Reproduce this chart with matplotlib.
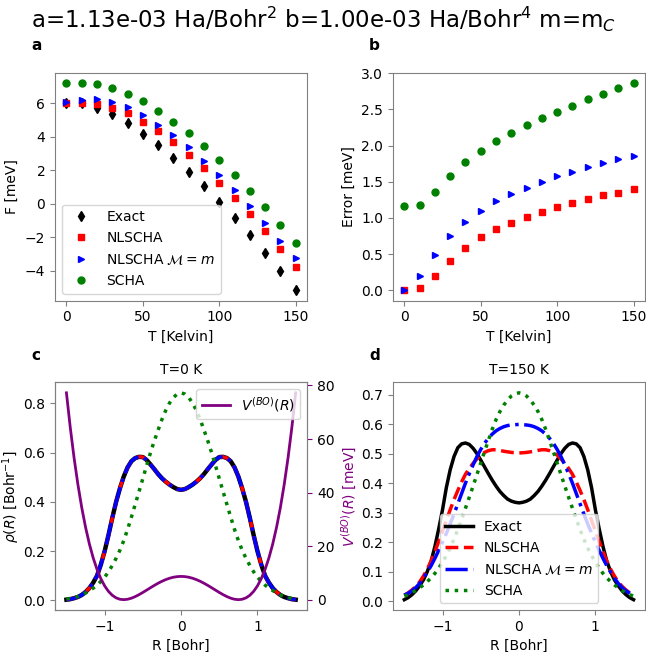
import numpy as np
import matplotlib
matplotlib.use("Agg")
import matplotlib.pyplot as plt

# ---------------- data ----------------
T = [0, 10, 20, 30, 40, 50, 60, 70, 80, 90, 100, 110, 120, 130, 140, 150]

F_exact = [6.0, 6.0, 5.74, 5.33, 4.8, 4.18, 3.48, 2.73, 1.92, 1.04, 0.1, -0.84, -1.88, -2.94, -4.03, -5.17]
F_nlscha = [6.04, 6.04, 5.94, 5.74, 5.39, 4.91, 4.32, 3.66, 2.93, 2.12, 1.25, 0.36, -0.62, -1.63, -2.68, -3.77]
F_nlscha_m = [6.06, 6.18, 6.24, 6.08, 5.76, 5.31, 4.73, 4.08, 3.37, 2.57, 1.71, 0.79, -0.16, -1.15, -2.2, -3.27]
F_scha = [7.19, 7.19, 7.13, 6.93, 6.57, 6.12, 5.56, 4.91, 4.23, 3.43, 2.6, 1.71, 0.77, -0.18, -1.25, -2.32]

err_nlscha = [0.0, 0.03, 0.2, 0.41, 0.59, 0.73, 0.84, 0.93, 1.01, 1.08, 1.15, 1.20, 1.26, 1.31, 1.35, 1.40]
err_nlscha_m = [0.0, 0.19, 0.49, 0.75, 0.95, 1.10, 1.23, 1.33, 1.42, 1.50, 1.58, 1.64, 1.70, 1.76, 1.81, 1.86]
err_scha = [1.16, 1.18, 1.36, 1.58, 1.77, 1.93, 2.07, 2.18, 2.28, 2.38, 2.47, 2.55, 2.64, 2.71, 2.79, 2.86]

# position grid (Bohr), -1.5 ... 1.5 in steps of 0.05
R = np.linspace(-1.5, 1.5, 61)

rho0_exact = [0.003, 0.005, 0.009, 0.014, 0.022, 0.034, 0.05, 0.072, 0.1, 0.145, 0.2, 0.265, 0.335, 0.4, 0.455, 0.503,
              0.54, 0.565, 0.578, 0.583, 0.582, 0.57, 0.552, 0.533, 0.513, 0.496, 0.482, 0.47, 0.46, 0.452, 0.449,
              0.452, 0.46, 0.47, 0.482, 0.496, 0.513, 0.533, 0.552, 0.57, 0.582, 0.583, 0.578, 0.565, 0.54, 0.503,
              0.455, 0.4, 0.335, 0.265, 0.2, 0.145, 0.1, 0.072, 0.05, 0.034, 0.022, 0.014, 0.009, 0.005, 0.003]
rho0_nlscha = [0.003, 0.005, 0.009, 0.014, 0.022, 0.034, 0.05, 0.072, 0.1, 0.145, 0.2, 0.265, 0.335, 0.4, 0.455, 0.503,
               0.54, 0.565, 0.578, 0.583, 0.582, 0.57, 0.552, 0.533, 0.513, 0.496, 0.482, 0.47, 0.46, 0.452, 0.449,
               0.452, 0.46, 0.47, 0.482, 0.496, 0.513, 0.533, 0.552, 0.57, 0.582, 0.583, 0.578, 0.565, 0.54, 0.503,
               0.455, 0.4, 0.335, 0.265, 0.2, 0.145, 0.1, 0.072, 0.05, 0.034, 0.022, 0.014, 0.009, 0.005, 0.003]
rho0_nlscha_m = [0.003, 0.005, 0.009, 0.014, 0.022, 0.034, 0.05, 0.072, 0.1, 0.145, 0.2, 0.265, 0.335, 0.4, 0.455, 0.503,
                 0.54, 0.565, 0.578, 0.583, 0.582, 0.57, 0.552, 0.533, 0.513, 0.496, 0.482, 0.47, 0.46, 0.452, 0.449,
                 0.452, 0.46, 0.47, 0.482, 0.496, 0.513, 0.533, 0.552, 0.57, 0.582, 0.583, 0.578, 0.565, 0.54, 0.503,
                 0.455, 0.4, 0.335, 0.265, 0.2, 0.145, 0.1, 0.072, 0.05, 0.034, 0.022, 0.014, 0.009, 0.005, 0.003]
rho0_scha = [0.006, 0.008, 0.012, 0.016, 0.022, 0.03, 0.04, 0.05, 0.062, 0.077, 0.094, 0.116, 0.142, 0.171, 0.204, 0.243,
             0.288, 0.338, 0.39, 0.442, 0.495, 0.548, 0.6, 0.648, 0.692, 0.735, 0.772, 0.802, 0.824, 0.838, 0.843,
             0.838, 0.824, 0.802, 0.772, 0.735, 0.692, 0.648, 0.6, 0.548, 0.495, 0.442, 0.39, 0.338, 0.288, 0.243,
             0.204, 0.171, 0.142, 0.116, 0.094, 0.077, 0.062, 0.05, 0.04, 0.03, 0.022, 0.016, 0.012, 0.008, 0.006]

rho150_exact = [0.005, 0.012, 0.022, 0.035, 0.052, 0.072, 0.1, 0.135, 0.185, 0.245, 0.31, 0.385, 0.445, 0.49, 0.52, 0.533,
                0.536, 0.531, 0.518, 0.5, 0.478, 0.455, 0.432, 0.41, 0.39, 0.372, 0.358, 0.346, 0.339, 0.335, 0.333,
                0.335, 0.339, 0.346, 0.358, 0.372, 0.39, 0.41, 0.432, 0.455, 0.478, 0.5, 0.518, 0.531, 0.536, 0.533,
                0.52, 0.49, 0.445, 0.385, 0.31, 0.245, 0.185, 0.135, 0.1, 0.072, 0.052, 0.035, 0.022, 0.012, 0.005]
rho150_nlscha = [0.02, 0.028, 0.038, 0.05, 0.065, 0.085, 0.108, 0.136, 0.168, 0.202, 0.238, 0.274, 0.31, 0.344, 0.375, 0.404,
                 0.43, 0.45, 0.467, 0.482, 0.495, 0.504, 0.51, 0.513, 0.513, 0.511, 0.508, 0.506, 0.504, 0.503, 0.502,
                 0.503, 0.504, 0.506, 0.508, 0.511, 0.513, 0.513, 0.51, 0.504, 0.495, 0.482, 0.467, 0.45, 0.43, 0.404,
                 0.375, 0.344, 0.31, 0.274, 0.238, 0.202, 0.168, 0.136, 0.108, 0.085, 0.065, 0.05, 0.038, 0.028, 0.02]
rho150_nlscha_m = [0.02, 0.027, 0.035, 0.046, 0.06, 0.078, 0.098, 0.12, 0.145, 0.172, 0.2, 0.23, 0.262, 0.295, 0.33, 0.365,
                   0.4, 0.432, 0.462, 0.49, 0.514, 0.535, 0.552, 0.566, 0.577, 0.585, 0.591, 0.595, 0.597, 0.598, 0.599,
                   0.598, 0.597, 0.595, 0.591, 0.585, 0.577, 0.566, 0.552, 0.535, 0.514, 0.49, 0.462, 0.432, 0.4, 0.365,
                   0.33, 0.295, 0.262, 0.23, 0.2, 0.172, 0.145, 0.12, 0.098, 0.078, 0.06, 0.046, 0.035, 0.027, 0.02]
rho150_scha = [0.017, 0.022, 0.029, 0.036, 0.045, 0.055, 0.066, 0.079, 0.094, 0.112, 0.132, 0.155, 0.18, 0.21, 0.243, 0.278,
               0.315, 0.352, 0.39, 0.429, 0.468, 0.507, 0.545, 0.582, 0.615, 0.642, 0.664, 0.681, 0.695, 0.703, 0.706,
               0.703, 0.695, 0.681, 0.664, 0.642, 0.615, 0.582, 0.545, 0.507, 0.468, 0.429, 0.39, 0.352, 0.315, 0.278,
               0.243, 0.21, 0.18, 0.155, 0.132, 0.112, 0.094, 0.079, 0.066, 0.055, 0.045, 0.036, 0.029, 0.022, 0.017]

# BO potential (meV)
V_bo = [77.259, 64.325, 52.954, 43.030, 34.440, 27.075, 20.834, 15.614, 11.320, 7.862, 5.149, 3.100, 1.633, 0.675, 0.153,
        0.000, 0.153, 0.553, 1.144, 1.875, 2.700, 3.576, 4.463, 5.328, 6.140, 6.871, 7.500, 8.009, 8.382, 8.610, 8.687,
        8.610, 8.382, 8.009, 7.500, 6.871, 6.140, 5.328, 4.463, 3.576, 2.700, 1.875, 1.144, 0.553, 0.153, 0.000,
        0.153, 0.675, 1.633, 3.100, 5.149, 7.862, 11.320, 15.614, 20.834, 27.075, 34.440, 43.030, 52.954, 64.325, 77.259]

labels = ["Exact", "NLSCHA", r"NLSCHA $\mathcal{M}=m$", "SCHA"]

# ---------------- style ----------------
plt.rcParams.update({
    "font.size": 10,
    "axes.edgecolor": "#808080",
    "xtick.color": "#808080",
    "ytick.color": "#808080",
    "xtick.labelcolor": "black",
    "ytick.labelcolor": "black",
})

fig, axs = plt.subplots(2, 2, figsize=(6.46, 6.52), dpi=100)
fig.subplots_adjust(left=0.0851, right=0.9985, bottom=0.0644, top=0.888, wspace=0.34, hspace=0.36)

fig.suptitle(r"a=1.13e-03 Ha/Bohr$^2$ b=1.00e-03 Ha/Bohr$^4$ m=m$_C$", fontsize=16.5, y=0.993, va="top")

ms = 5
# panel a
ax = axs[0, 0]
ax.plot(T, F_exact, ls="none", marker="d", color="black", ms=ms + 0.5, label=labels[0])
ax.plot(T, F_nlscha, ls="none", marker="s", color="red", ms=ms, label=labels[1])
ax.plot(T, F_nlscha_m, ls="none", marker=">", color="blue", ms=ms, label=labels[2])
ax.plot(T, F_scha, ls="none", marker="o", color="green", ms=ms, label=labels[3])
ax.set_xlabel("T [Kelvin]")
ax.set_ylabel("F [meV]")
ax.set_xticks([0, 50, 100, 150])
ax.legend(loc="lower left")

# panel b
ax = axs[0, 1]
ax.plot(T, err_nlscha, ls="none", marker="s", color="red", ms=ms)
ax.plot(T, err_nlscha_m, ls="none", marker=">", color="blue", ms=ms)
ax.plot(T, err_scha, ls="none", marker="o", color="green", ms=ms)
ax.set_xlabel("T [Kelvin]")
ax.set_ylabel("Error [meV]")
ax.set_xticks([0, 50, 100, 150])

lw = 2.5
# panel c
ax = axs[1, 0]
ax.plot(R, rho0_exact, color="black", lw=lw + 0.7, ls="-")
ax.plot(R, rho0_nlscha, color="red", lw=lw, ls="--")
ax.plot(R, rho0_nlscha_m, color="blue", lw=lw, ls="-.")
ax.plot(R, rho0_scha, color="green", lw=lw, ls=":")
ax.set_xlabel("R [Bohr]")
ax.set_ylabel(r"$\rho(R)$ [Bohr$^{-1}$]", labelpad=1)
ax.set_title("T=0 K", fontsize=10)
axt = ax.twinx()
axt.plot(R, V_bo, color="purple", lw=2, label=r"$V^{(BO)}(R)$")
axt.set_ylabel(r"$V^{(BO)}(R)$ [meV]", color="purple")
axt.tick_params(axis="y", color="purple", labelcolor="black")
axt.legend(loc="upper right")

# panel d
ax = axs[1, 1]
ax.plot(R, rho150_exact, color="black", lw=lw, ls="-", label=labels[0])
ax.plot(R, rho150_nlscha, color="red", lw=lw, ls="--", label=labels[1])
ax.plot(R, rho150_nlscha_m, color="blue", lw=lw, ls="-.", label=labels[2])
ax.plot(R, rho150_scha, color="green", lw=lw, ls=":", label=labels[3])
ax.set_xlabel("R [Bohr]")
ax.set_title("T=150 K", fontsize=10)
ax.legend(loc="lower center")

for a, lab in zip(axs.flat, "abcd"):
    a.text(-0.095, 1.10, lab, transform=a.transAxes, fontweight="bold", fontsize=11,
           ha="left", va="baseline")

fig.savefig("out.png", dpi=100)
